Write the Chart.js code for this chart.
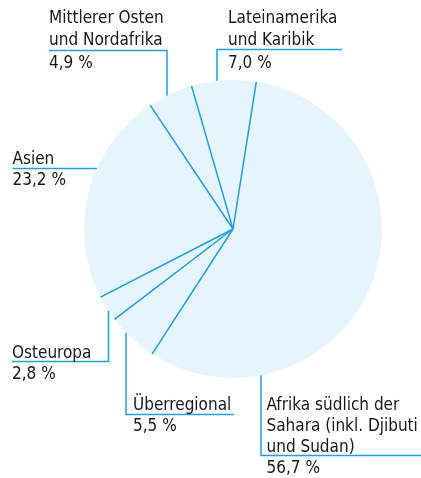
<!DOCTYPE html>
<html lang="de">
<head>
<meta charset="UTF-8">
<title>Regionale Verteilung</title>
<script src="https://cdn.jsdelivr.net/npm/chart.js"></script>
<style>
  html, body { margin: 0; padding: 0; background: #fff; }
  #wrap { width: 421px; height: 478px; position: relative; }
</style>
</head>
<body>
<div id="wrap"><canvas id="pie"></canvas></div>
<script>
// Daten (Reihenfolge im Uhrzeigersinn ab oben)
var regionen = [
  ['Afrika südlich der', 'Sahara (inkl. Djibuti', 'und Sudan)'],
  ['Überregional'],
  ['Osteuropa'],
  ['Asien'],
  ['Mittlerer Osten', 'und Nordafrika'],
  ['Lateinamerika', 'und Karibik']
];
var anteile = [56.7, 5.5, 2.8, 23.2, 4.9, 7.0];
var anteilText = ['56,7 %', '5,5 %', '2,8 %', '23,2 %', '4,9 %', '7,0 %'];

// Lage der Beschriftungen (nur Layout)
var beschriftung = [
  { tx: 266.5, base: 409.5, step: 21.3, hy: 455.5, hx1: 261, hx2: 421, vx: 261, dir: 'up' },
  { tx: 133, base: 409.5, step: 21.3, hy: 414.5, hx1: 126, hx2: 234, vx: 126, dir: 'up' },
  { tx: 12,  base: 357.5, step: 21,   hy: 361.5, hx1: 12,  hx2: 108.5, vx: 108.5, dir: 'up' },
  { tx: 12.5, base: 163.5, step: 21,  hy: 168.5, hx1: 12.5, hx2: null, vx: null, dir: 'left' },
  { tx: 49,  base: 23,   step: 22.3, hy: 50.5, hx1: 49,  hx2: 167, vx: 167, dir: 'down' },
  { tx: 228, base: 23,   step: 22.3, hy: 49.5, hx1: 217, hx2: 342, vx: 217, dir: 'down' }
];

var blau = '#1ba1e2';
var fuellung = '#e6f4fd';
var schrift = '17px "DejaVu Sans Condensed", "DejaVu Sans", sans-serif';

// radiale Trennlinien zwischen den Segmenten
var trennlinien = {
  id: 'trennlinien',
  afterDatasetsDraw: function(chart) {
    var ctx = chart.ctx;
    var meta = chart.getDatasetMeta(0);
    ctx.save();
    ctx.strokeStyle = blau;
    ctx.lineWidth = 1.5;
    meta.data.forEach(function(arc) {
      var p = arc.getProps(['x', 'y', 'startAngle', 'outerRadius'], true);
      ctx.beginPath();
      ctx.moveTo(p.x, p.y);
      ctx.lineTo(p.x + p.outerRadius * Math.cos(p.startAngle), p.y + p.outerRadius * Math.sin(p.startAngle));
      ctx.stroke();
    });
    ctx.restore();
  }
};

// Beschriftungen mit Hinweislinien
var etiketten = {
  id: 'etiketten',
  afterDraw: function(chart) {
    var ctx = chart.ctx;
    var arc = chart.getDatasetMeta(0).data[0];
    var cx = arc.x, cy = arc.y, r = arc.outerRadius;
    ctx.save();
    ctx.strokeStyle = blau;
    ctx.lineWidth = 1.5;
    beschriftung.forEach(function(b, i) {
      ctx.beginPath();
      if (b.dir === 'left') {
        var dy = b.hy - cy;
        var x2 = cx - Math.sqrt(r * r - dy * dy);
        ctx.moveTo(b.hx1, b.hy);
        ctx.lineTo(x2, b.hy);
      } else {
        var dx = b.vx - cx;
        var h = Math.sqrt(r * r - dx * dx);
        var yc = b.dir === 'down' ? cy - h : cy + h;
        var ecke = b.vx === b.hx1 ? b.hx2 : b.hx1;
        ctx.moveTo(ecke, b.hy);
        ctx.lineTo(b.vx, b.hy);
        ctx.lineTo(b.vx, yc);
      }
      ctx.stroke();

      ctx.fillStyle = '#1a1718';
      ctx.font = schrift;
      ctx.textAlign = 'left';
      ctx.textBaseline = 'alphabetic';
      var zeilen = regionen[i].concat([anteilText[i]]);
      zeilen.forEach(function(z, k) {
        ctx.fillText(z, b.tx, b.base + k * b.step);
      });
    });
    ctx.restore();
  }
};

new Chart(document.getElementById('pie'), {
  type: 'pie',
  data: {
    labels: regionen.map(function(l) { return l.join(' '); }),
    datasets: [{
      data: anteile,
      backgroundColor: fuellung,
      borderWidth: 0
    }]
  },
  options: {
    responsive: true,
    maintainAspectRatio: false,
    animation: false,
    rotation: 9,
    layout: { padding: { left: 84, right: 39, top: 80, bottom: 100 } },
    plugins: {
      legend: { display: false },
      tooltip: { enabled: false }
    }
  },
  plugins: [trennlinien, etiketten]
});
</script>
</body>
</html>
